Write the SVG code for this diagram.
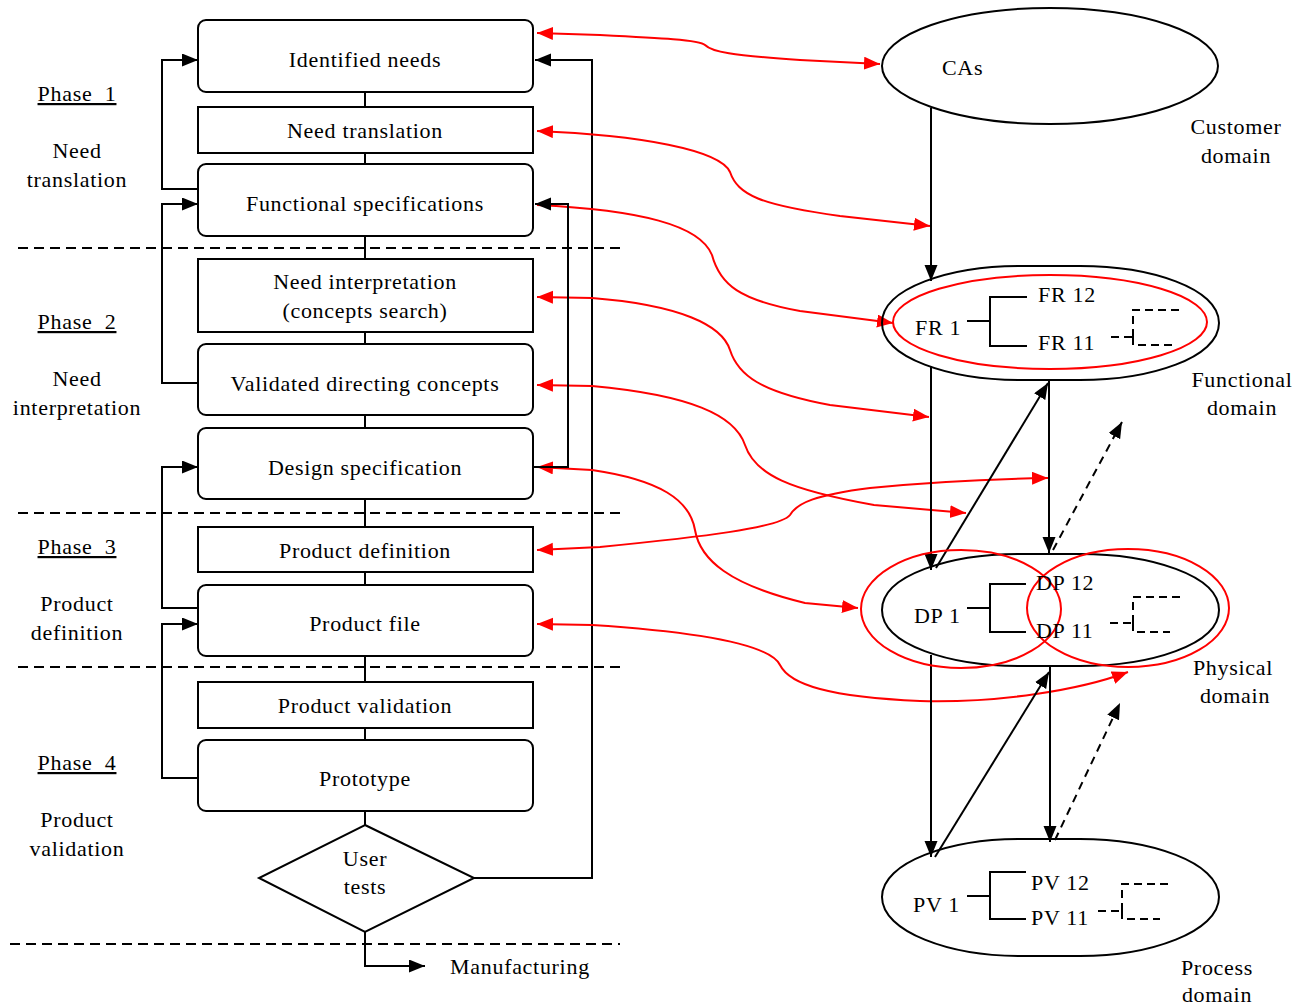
<svg xmlns="http://www.w3.org/2000/svg" width="1306" height="1006" viewBox="0 0 1306 1006">
  <style>
    text { font-family: "Liberation Serif", "Times New Roman", serif; font-size: 22px; letter-spacing: 0.7px; fill: #000; white-space: pre; }
    .c { text-anchor: middle; }
    .u { text-decoration: underline; }
    .box { fill: #fff; stroke: #000; stroke-width: 2; }
    .shape { fill: none; stroke: #000; stroke-width: 2; }
    .ln { fill: none; stroke: #000; stroke-width: 2; }
    .arr { fill: none; stroke: #000; stroke-width: 2; marker-end: url(#ah); }
    .dash { fill: none; stroke: #000; stroke-width: 2; stroke-dasharray: 10 6; }
    .darr { fill: none; stroke: #000; stroke-width: 2; stroke-dasharray: 8 6; marker-end: url(#ah); }
    .tdash { fill: none; stroke: #000; stroke-width: 2; stroke-dasharray: 8 5; }
    .red { fill: none; stroke: #f00; stroke-width: 2; marker-end: url(#rh); }
    .red2 { fill: none; stroke: #f00; stroke-width: 2; marker-start: url(#rh); marker-end: url(#rh); }
  </style>
  <defs>
    <marker id="ah" markerUnits="userSpaceOnUse" markerWidth="17" markerHeight="14" refX="16" refY="6.5" orient="auto-start-reverse">
      <path d="M0,0 L16,6.5 L0,13 Z" fill="#000"/>
    </marker>
    <marker id="rh" markerUnits="userSpaceOnUse" markerWidth="17" markerHeight="14" refX="16" refY="6.5" orient="auto-start-reverse">
      <path d="M0,0 L16,6.5 L0,13 Z" fill="#f00"/>
    </marker>
  </defs>
  <rect width="1306" height="1006" fill="#fff"/>

  <!-- phase separators -->
  <g id="separators">
    <line class="dash" x1="18" y1="248" x2="620" y2="248"/>
    <line class="dash" x1="18" y1="513" x2="620" y2="513"/>
    <line class="dash" x1="18" y1="667" x2="620" y2="667"/>
    <line class="dash" x1="10" y1="944" x2="620" y2="944"/>
  </g>

  <!-- phase labels -->
  <g id="phase-labels">
    <text class="c u" x="77" y="101">Phase  1</text>
    <text class="c" x="77" y="158">Need</text>
    <text class="c" x="77" y="187">translation</text>
    <text class="c u" x="77" y="329">Phase  2</text>
    <text class="c" x="77" y="386">Need</text>
    <text class="c" x="77" y="415">interpretation</text>
    <text class="c u" x="77" y="554">Phase  3</text>
    <text class="c" x="77" y="611">Product</text>
    <text class="c" x="77" y="640">definition</text>
    <text class="c u" x="77" y="770">Phase  4</text>
    <text class="c" x="77" y="827">Product</text>
    <text class="c" x="77" y="856">validation</text>
  </g>

  <!-- domain labels -->
  <g id="domain-labels">
    <text class="c" x="1236" y="134">Customer</text>
    <text class="c" x="1236" y="163">domain</text>
    <text class="c" x="1242" y="387">Functional</text>
    <text class="c" x="1242" y="415">domain</text>
    <text class="c" x="1233" y="675">Physical</text>
    <text class="c" x="1235" y="703">domain</text>
    <text class="c" x="1217" y="975">Process</text>
    <text class="c" x="1217" y="1002">domain</text>
  </g>

  <g id="connectors">
    <!-- main process spine -->
    <line class="ln" x1="365" y1="92" x2="365" y2="932"/>
    <path class="arr" d="M365,932 V966 H425"/>
    <!-- feedback loops on the left -->
    <path class="arr" d="M198,189 H162 V60 H198"/>
    <path class="arr" d="M198,383 H162 V204 H198"/>
    <path class="arr" d="M198,608 H162 V467 H198"/>
    <path class="arr" d="M198,778 H162 V624 H198"/>
    <!-- return from user tests -->
    <path class="arr" d="M474,878 H592 V60 H535"/>

    <!-- links between process steps and domains -->
    <path class="red2" d="M537,33 L600,35 C660,38 700,40 705,45 C712,52 730,55 800,60 L880,64"/>
    <path class="red2" d="M537,131 C640,135 720,150 730,172 C738,195 760,205 840,216 L930,226"/>
    <path class="red" d="M537,205 C640,210 700,225 712,255 C720,285 740,300 800,311 L893,323"/>
    <path class="red2" d="M537,297 L592,298 C680,305 722,325 730,350 C738,375 760,392 830,405 L929,417"/>
    <path class="red2" d="M537,385 L592,386 C690,395 735,415 745,445 C755,475 790,490 874,505 L966,513"/>
    <path class="red2" d="M537,467 L592,470 C660,480 690,500 695,530 C700,560 730,585 805,603 L858,608"/>
    <path class="red2" d="M537,550 L600,547 C700,537 780,528 790,515 C797,503 815,495 870,488 C930,482 990,479 1048,478"/>
    <path class="red2" d="M537,624 L592,625 C700,632 770,645 780,665 C790,685 830,697 920,701 C1000,703 1080,690 1128,672"/>

    <!-- specification link -->
    <path class="arr" d="M533,467 H568 V204 H535"/>

    <!-- zigzag mapping between domains -->
    <line class="arr" x1="931" y1="108" x2="931" y2="281"/>
    <line class="arr" x1="931" y1="366" x2="931" y2="570"/>
    <line class="arr" x1="936" y1="568" x2="1048" y2="383"/>
    <line class="arr" x1="1049" y1="380" x2="1049" y2="553"/>
    <line class="darr" x1="1053" y1="550" x2="1122" y2="422"/>
    <line class="arr" x1="931" y1="655" x2="931" y2="857"/>
    <line class="arr" x1="935" y1="857" x2="1049" y2="672"/>
    <line class="arr" x1="1050" y1="666" x2="1050" y2="842"/>
    <line class="darr" x1="1055" y1="840" x2="1120" y2="703"/>
  </g>

  <!-- process steps -->
  <g id="identified-needs">
    <rect class="box" x="198" y="20" width="335" height="72" rx="8"/>
    <text class="c" x="365" y="67">Identified needs</text>
  </g>
  <g id="need-translation">
    <rect class="box" x="198" y="107" width="335" height="46"/>
    <text class="c" x="365" y="138">Need translation</text>
  </g>
  <g id="functional-specifications">
    <rect class="box" x="198" y="164" width="335" height="72" rx="8"/>
    <text class="c" x="365" y="211">Functional specifications</text>
  </g>
  <g id="need-interpretation">
    <rect class="box" x="198" y="259" width="335" height="73"/>
    <text class="c" x="365" y="289">Need interpretation</text>
    <text class="c" x="365" y="318">(concepts search)</text>
  </g>
  <g id="validated-directing-concepts">
    <rect class="box" x="198" y="344" width="335" height="71" rx="8"/>
    <text class="c" x="365" y="391">Validated directing concepts</text>
  </g>
  <g id="design-specification">
    <rect class="box" x="198" y="428" width="335" height="71" rx="8"/>
    <text class="c" x="365" y="475">Design specification</text>
  </g>
  <g id="product-definition">
    <rect class="box" x="198" y="527" width="335" height="45"/>
    <text class="c" x="365" y="558">Product definition</text>
  </g>
  <g id="product-file">
    <rect class="box" x="198" y="585" width="335" height="71" rx="8"/>
    <text class="c" x="365" y="631">Product file</text>
  </g>
  <g id="product-validation">
    <rect class="box" x="198" y="682" width="335" height="46"/>
    <text class="c" x="365" y="713">Product validation</text>
  </g>
  <g id="prototype">
    <rect class="box" x="198" y="740" width="335" height="71" rx="8"/>
    <text class="c" x="365" y="786">Prototype</text>
  </g>
  <g id="user-tests">
    <polygon class="box" points="365,825 474,878 365,932 259,878"/>
    <text class="c" x="365" y="866">User</text>
    <text class="c" x="365" y="894">tests</text>
  </g>
  <g id="manufacturing">
    <text x="450" y="974">Manufacturing</text>
  </g>

  <!-- domains -->
  <g id="customer-domain">
    <ellipse class="shape" cx="1050" cy="66" rx="168" ry="58"/>
    <text x="942" y="75">CAs</text>
  </g>
  <g id="functional-domain">
    <path class="shape" d="M882,323 C882,288 950,266 1020,266 L1080,266 C1150,266 1219,288 1219,323 C1219,358 1150,380 1080,380 L1020,380 C950,380 882,358 882,323 Z"/>
    <ellipse cx="1050" cy="322" rx="157" ry="47" fill="none" stroke="#f00" stroke-width="2"/>
    <text x="915" y="335">FR 1</text>
    <path class="ln" d="M967,321 H990 M1027,297 H990 V346 H1027"/>
    <text x="1038" y="302">FR 12</text>
    <text x="1038" y="350">FR 11</text>
    <path class="tdash" d="M1111,337 H1133 M1133,337 V310 H1183 M1133,337 V345 H1172"/>
  </g>
  <g id="physical-domain">
    <path class="shape" d="M882,610 C882,575 950,554 1020,554 L1080,554 C1150,554 1219,575 1219,610 C1219,645 1150,666 1080,666 L1020,666 C950,666 882,645 882,610 Z"/>
    <ellipse cx="961" cy="609" rx="100" ry="59" fill="none" stroke="#f00" stroke-width="2"/>
    <ellipse cx="1128" cy="608" rx="101" ry="59" fill="none" stroke="#f00" stroke-width="2"/>
    <text x="914" y="623">DP 1</text>
    <path class="ln" d="M967,608 H990 M1026,584 H990 V632 H1026"/>
    <text x="1036" y="590">DP 12</text>
    <text x="1036" y="638">DP 11</text>
    <path class="tdash" d="M1110,623 H1133 M1133,623 V597 H1183 M1133,623 V632 H1170"/>
  </g>
  <g id="process-domain">
    <path class="shape" d="M882,897 C882,862 950,839 1020,839 L1080,839 C1150,839 1219,862 1219,897 C1219,932 1150,956 1080,956 L1020,956 C950,956 882,932 882,897 Z"/>
    <text x="913" y="912">PV 1</text>
    <path class="ln" d="M967,896 H990 M1026,872 H990 V919 H1026"/>
    <text x="1031" y="890">PV 12</text>
    <text x="1031" y="925">PV 11</text>
    <path class="tdash" d="M1098,911 H1122 M1122,911 V884 H1172 M1122,911 V919 H1160"/>
  </g>
</svg>
